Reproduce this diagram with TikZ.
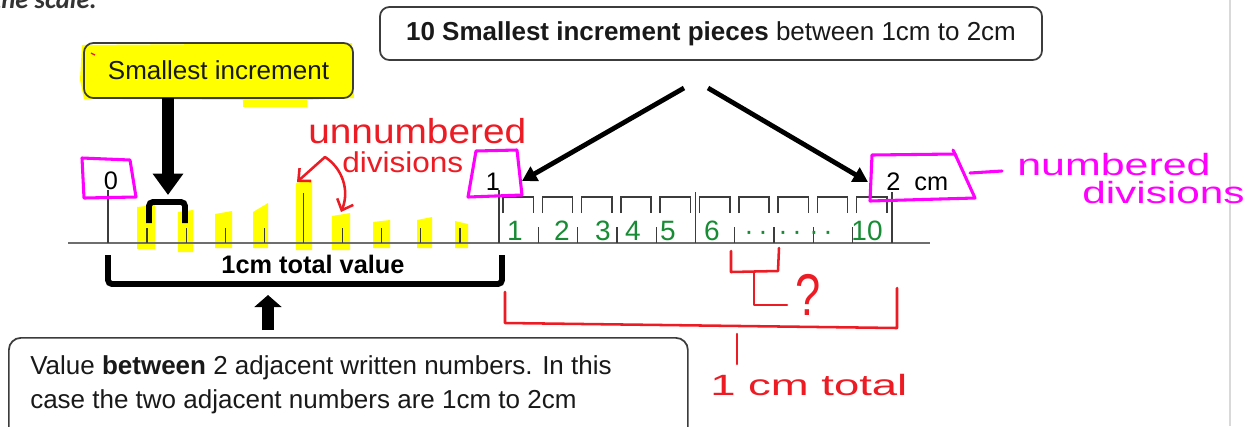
\documentclass[tikz,border=0pt]{standalone}
\usepackage{fontspec}
\setmainfont{Liberation Sans}
\newfontfamily\calibfont{Carlito}
\usetikzlibrary{arrows.meta}
\definecolor{hlyellow}{RGB}{255,255,0}
\definecolor{pmag}{RGB}{255,0,255}
\definecolor{pred}{RGB}{237,28,36}
\definecolor{pgreen}{RGB}{24,140,52}
\definecolor{boxline}{RGB}{60,60,60}
\definecolor{tickgray}{RGB}{60,60,60}
\definecolor{axisgray}{RGB}{110,110,110}
\tikzset{
  roundbox/.style={draw=boxline, line width=1.3pt, rounded corners=7pt, inner sep=0pt},
  bigtext/.style={font=\fontsize{19.5}{23}\selectfont, text=black!90, inner sep=0pt},
  ticksty/.style={draw=tickgray, line width=1pt},
  blackthick/.style={draw=black, line width=4.4pt, rounded corners=3pt},
  magbox/.style={draw=pmag, line width=2.3pt, line join=round, line cap=round},
  redpen/.style={draw=pred, line width=1.9pt, line join=round, line cap=round},
  greennum/.style={text=pgreen, font=\fontsize{21}{24}\selectfont, inner sep=0pt, anchor=base},
  scalelabel/.style={font=\fontsize{19}{22}\selectfont, inner sep=0pt},
}
\begin{document}
\begin{tikzpicture}[x=0.75pt,y=-0.75pt]
\useasboundingbox (0,0) rectangle (1256,426);
\clip (0,0) rectangle (1256,426);
\fill[white] (0,0) rectangle (1256,426);

% page edge
\draw[gray!30, line width=1.5pt] (1230,0) -- (1230,426);

% heading fragment
\node[anchor=base east, font=\calibfont\bfseries\itshape\fontsize{20}{24}\selectfont, text=black!80, inner sep=0pt] (scaletxt) at (97,8) {the scale.};

% yellow highlighter
\fill[hlyellow] (82,45) -- (352,43) -- (354,98) -- (307,100) -- (307,107) -- (243,107) -- (243,100) -- (84,99) -- (80,80) -- cycle;
\foreach \a/\b/\c/\d/\e in {137/207/155/205/249, 178/212/193/210/252, 215/214/232/211/248, 253/212/268/203/248, 296/183/312/180/250, 332/216/350/213/250, 373/222/390/220/248, 417/220/432/217/248, 455/221/468/224/248}
  \fill[hlyellow] (\a,\b) -- (\c,\d) -- (\c,\e) -- (\a,\e) -- cycle;

% Smallest increment box
\node[roundbox, minimum width=201.75pt, minimum height=41.25pt, bigtext] (incbox) at (218.5,70.5) {Smallest increment};
\draw[pred, line width=1pt] (91,53) -- (95,55);

% top box
\node[roundbox, minimum width=496.5pt, minimum height=39.75pt, bigtext] (topbox) at (711,33.5) {\textbf{10 Smallest increment pieces} between 1cm to 2cm};

% arrows from top box
\coordinate (tA) at (684,88);
\coordinate (tB) at (708,88);
\coordinate (t1) at (522,181);
\coordinate (t2) at (868,182);
\draw[line width=3.6pt, -{Triangle[length=11pt,width=12pt]}] (tA) -- (t1);
\draw[line width=3.6pt, -{Triangle[length=11pt,width=12pt]}] (tB) -- (t2);

% down arrow from smallest increment
\coordinate (dnA) at (168,98);
\coordinate (dnB) at (168,195);
\draw[line width=8.5pt, -{Triangle[length=16pt,width=22pt]}] (dnA) -- (dnB);
\draw[blackthick] (149,223) -- (149,202) -- (185,202) -- (185,223);

% axis
\draw[axisgray, line width=1.6pt] (68,243) -- (930,243);

% left ticks
\draw[ticksty] (108,190) -- (108,243);
\draw[ticksty] (499,190) -- (499,243);
\foreach \i/\tp in {1/228,2/228,3/228,4/228,5/193,6/228,7/228,8/228,9/228}{
  \pgfmathsetmacro\xx{108+39.1*\i}
  \draw[ticksty] (\xx,\tp) -- (\xx,243);
}
% right ticks
\foreach \i/\tp in {1/227,2/227,3/227,4/227,5/192,6/227,7/227,8/227,9/227,10/192}{
  \pgfmathsetmacro\xx{499+39.3*\i}
  \draw[ticksty] (\xx,\tp) -- (\xx,243);
}
\foreach \i in {0,...,9}{
  \pgfmathsetmacro\xa{499+39.3*\i+4}
  \pgfmathsetmacro\xb{499+39.3*(\i+1)-5}
  \draw[draw=tickgray, line width=1.1pt] (\xa,213) -- (\xa,197) -- (\xb,197) -- (\xb,213);
}

% numbers
\node[anchor=base, scalelabel] (lab0) at (111,189) {0};
\node[anchor=base, scalelabel] (lab1) at (493,190) {1};
\node[anchor=base west, scalelabel] (lab2) at (886,190) {2\ \ cm};

% magenta boxes
\draw[magbox] (82,158) -- (130,160) -- (136,197) -- (84,198) -- cycle;
\draw[magbox] (476,151) -- (517,150) -- (522,195) -- (468,197) -- cycle;
\draw[magbox] (872,155) -- (955,154) -- (975,198) -- (870,201) -- cycle;
\draw[magbox] (953,150) -- (956,156);
\node[anchor=base west, text=pmag, inner sep=0pt] (numtxt) at (1017,175) {\scalebox{1.4}[1]{\fontsize{23}{28}\selectfont numbered}};
\node[anchor=base west, text=pmag, inner sep=0pt] (divtxt) at (1082,203) {\scalebox{1.38}[1]{\fontsize{23}{28}\selectfont divisions}};
\coordinate (mA) at (970,173);
\coordinate (mB) at (1002,171);
\draw[magbox] (mA) -- (mB);

% green handwritten numbers
\foreach \xx/\tt in {515/1,562/2,603/3,633/4,668/5,712/6,756/{·\,·},790/{·\,·},821/{·\,·},867/10}
  \node[greennum] at (\xx,240) {\tt};

% red annotation: unnumbered divisions
\node[anchor=base west, text=pred, inner sep=0pt] (unnum) at (308,143) {\scalebox{1.12}[1]{\fontsize{26}{30}\selectfont unnumbered}};
\node[anchor=base west, text=pred, inner sep=0pt] (divred) at (342,172) {\scalebox{1.1}[1]{\fontsize{21.5}{25}\selectfont divisions}};
\coordinate (rj) at (325,157);
\coordinate (rt1) at (297,182);
\coordinate (rt2) at (341,212);
\draw[redpen, -{Straight Barb[length=7pt,width=13pt]}] (rj) -- (rt1);
\draw[redpen, -{Straight Barb[length=7pt,width=13pt]}] (rj) .. controls (342,168) and (350,190) .. (rt2);

% black bracket under first centimetre
\draw[blackthick] (108,255) -- (108,284) -- (502,284) -- (502,255);
\node[anchor=base, font=\bfseries\fontsize{19}{22}\selectfont, inner sep=0pt] (totval) at (313,273) {1cm total value};

% value box
\node[roundbox, rounded corners=9pt, anchor=north west, minimum width=509.25pt, minimum height=82pt] (valbox) at (8,337) {};
\node[anchor=base west, bigtext] (val1) at (30,374) {Value \textbf{between} 2 adjacent written numbers. In this};
\node[anchor=base west, bigtext] (val2) at (30,408) {case the two adjacent numbers are 1cm to 2cm};
\coordinate (uA) at (268,330);
\coordinate (uB) at (268,295);
\draw[line width=9pt, -{Triangle[length=9pt,width=20pt]}] (uA) -- (uB);

% red annotations on right
\draw[redpen] (505,292) -- (505,323) -- (897,328) -- (897,288);
\draw[redpen] (737,334) -- (737,364);
\node[anchor=base west, text=pred, inner sep=0pt] (cmtotal) at (710,395) {\scalebox{1.55}[1]{\fontsize{22}{26}\selectfont 1 cm total}};
\draw[redpen] (731,251) -- (731,272) -- (778,271) -- (779,248);
\draw[redpen] (754,272) -- (754,305) -- (787,305);
\node[anchor=base, text=pred, inner sep=0pt] (qm) at (808,315) {\scalebox{1}[1.3]{\fontsize{34}{40}\selectfont ?}};
\end{tikzpicture}
\end{document}
